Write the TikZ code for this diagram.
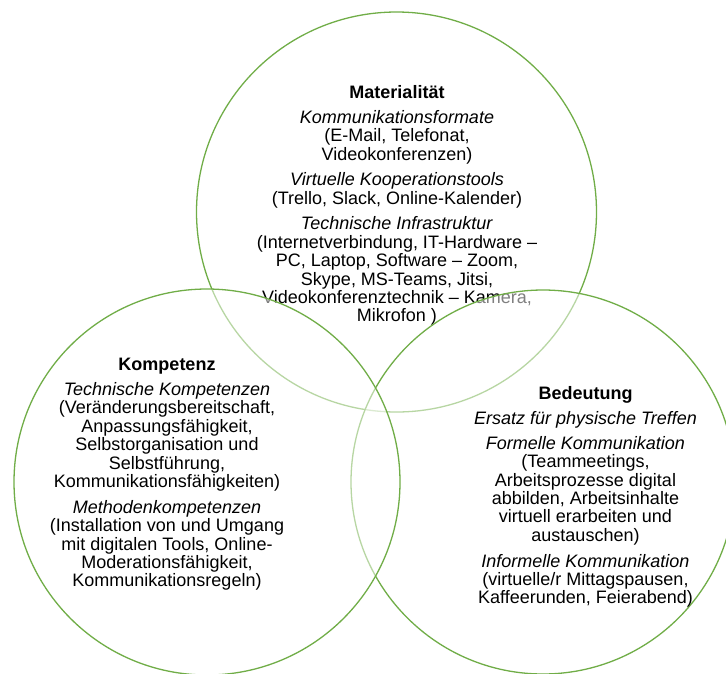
\documentclass[tikz,border=0pt]{standalone}
\usepackage{fontspec}
\setmainfont{Liberation Sans}
\definecolor{vgreen}{HTML}{70AD47}
\tikzset{
  venn/.style={circle, draw=vgreen, line width=1.3pt, fill=white, fill opacity=0.5, inner sep=0pt, outer sep=0pt},
  vtext/.style={anchor=north, align=center, inner sep=0pt, font=\fontsize{18}{18.4}\selectfont}
}
\begin{document}
\begin{tikzpicture}[x=1pt,y=-1pt]
\useasboundingbox (0,0) rectangle (726,673);
\clip (0,0) rectangle (726,673);
\node[venn, minimum size=400pt] (cmat) at (396.5,212) {};
\node[vtext] (tmat) at (397,85) {\textbf{Materialität}\\[6.6pt]
\textit{Kommunikationsformate}\\
(E-Mail, Telefonat,\\
Videokonferenzen)\\[7.4pt]
\textit{Virtuelle Kooperationstools}\\
(Trello, Slack, Online-Kalender)\\[7.2pt]
\textit{Technische Infrastruktur}\\
(Internetverbindung, IT-Hardware –\\
PC, Laptop, Software – Zoom,\\
Skype, MS-Teams, Jitsi,\\
Videokonferenztechnik – Kamera,\\
Mikrofon )};
\node[venn, minimum size=384pt] (cbed) at (543,482) {};
\node[venn, minimum size=386pt] (ckom) at (207,482) {};
\node[vtext] (tkom) at (167,358) {\textbf{Kompetenz}\\[6.6pt]
\textit{Technische Kompetenzen}\\
(Veränderungsbereitschaft,\\
Anpassungsfähigkeit,\\
Selbstorganisation und\\
Selbstführung,\\
Kommunikationsfähigkeiten)\\[7.4pt]
\textit{Methodenkompetenzen}\\
(Installation von und Umgang\\
mit digitalen Tools, Online-\\
Moderationsfähigkeit,\\
Kommunikationsregeln)};
\node[vtext] (tbed) at (585.5,386) {\textbf{Bedeutung}\\[6.6pt]
\textit{Ersatz für physische Treffen}\\[6.6pt]
\textit{Formelle Kommunikation}\\
(Teammeetings,\\
Arbeitsprozesse digital\\
abbilden, Arbeitsinhalte\\
virtuell erarbeiten und\\
austauschen)\\[7.4pt]
\textit{Informelle Kommunikation}\\
(virtuelle/r Mittagspausen,\\
Kaffeerunden, Feierabend)};
\end{tikzpicture}
\end{document}
